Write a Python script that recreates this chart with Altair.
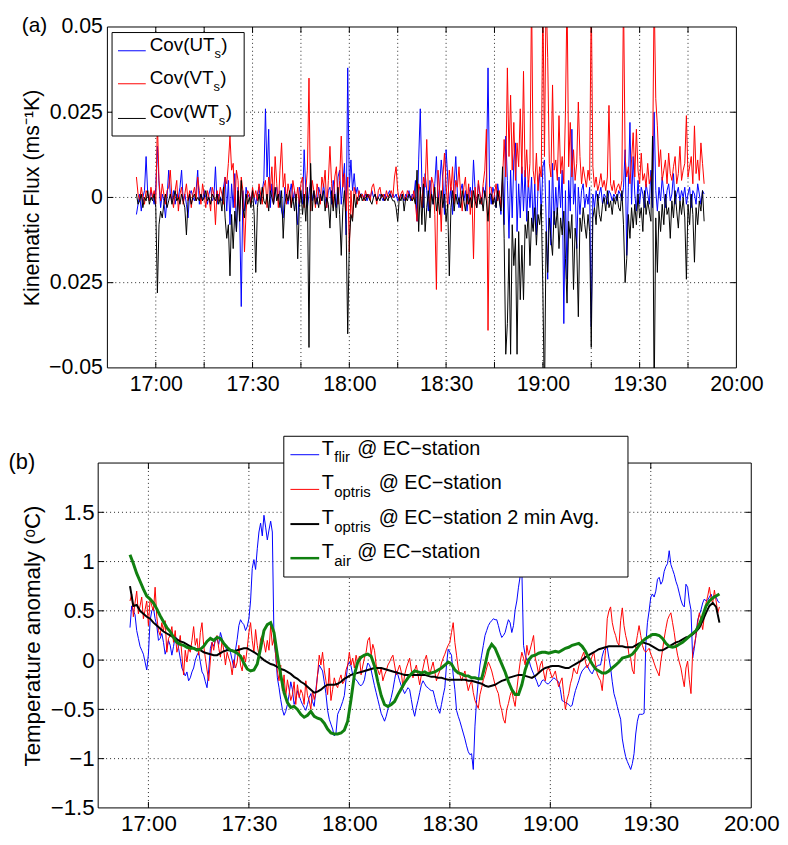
import altair as alt
import numpy as np
import pandas as pd

FONT = "Liberation Sans"

# ---------------- data : panel (a) kinematic fluxes, units of 1e-3 m s^-1 K ----------------
# samples every 0.5 min, first sample at 9.0 min after 16:45
A_START, A_STEP = 9.0, 0.5
cov_ut = [
    -5, -2, 1, -4, 0, 2, 12, 1, -1, 2, 0, -2, 3, 15, 4, -3, 1, -1, -6, 0,
    8, 1, -1, 2, -2, 1, 0, 3, 8, -1, 1, -2, -6, 1, 2, 0, -1, 2, 8, -2,
    1, -1, 2, 0, -2, 1, 3, -1, 0, 9, -2, 1, 0, -1, 3, 6, -4, 5, -8, 4,
    -3, 7, -10, 3, -5, -32, 2, -4, 3, 0, 1, -1, 2, 0, -2, 1, 3, -1, 2, 5,
    26, 6, 20, -3, 4, -2, 1, 3, -1, 2, -4, -6, 3, 0, -2, 1, 4, -1, 2, -3,
    -8, 3, 1, -2, 14, 2, -3, 1, 5, -1, 2, 0, -2, 3, 1, -1, 4, 0, -3, 2,
    3, -2, 5, 1, -3, 6, 8, -2, 4, 10, -11, 38, 3, 11, 2, 7, 1, 3, 0, 1,
    1, 0, 1, -1, 1, 0, 2, 0, 1, -1, 0, 1, 0, -1, 1, 0, 1, 2, 0, 1,
    0, 1, -1, 0, 1, 0, -1, 1, 0, 2, -1, 1, 0, 5, -7, 11, 26, 4, -3, 7,
    2, -4, 5, 1, -2, 4, 12, -1, 3, 11, 5, -5, 14, 6, -2, 3, -5, 4, 12, 1,
    -3, 2, 4, -1, 2, -4, 1, 3, -2, 11, 2, -3, 4, 1, -2, 3, 0, 6, 38, 2,
    -2, 3, 1, -3, 4, 0, -5, 6, -8, 18, 5, -12, 8, -6, 11, 16, -10, 4, -6, 9,
    -4, 8, -7, 5, -3, 6, -9, 4, -11, 3, 7, -5, 9, 11, -6, -24, 5, -14, 10, -8,
    3, -5, 6, -3, 8, -37, 2, -24, 5, -4, 20, -2, 4, -15, 3, -5, 2, 4, -3, 1,
    -2, 3, -38, 1, -3, 2, -1, 1, 3, -2, 1, 0, -2, 2, 1, -1, 1, 0, -1, 2,
    1, -1, 3, 14, -17, 3, 22, -2, 12, 1, -4, 5, -2, 3, 1, -3, 4, 1, -2, 8,
    -3, 25, 2, -4, 3, -1, 6, 1, -3, 2, 4, -1, 1, 7, -2, 1, 3, -1, 2, 0,
    3, -2, 1, 3, -3, 2, 1, -2, 4, 1, -2, 2, 1,
]
cov_vt = [
    6, 1, -1, 3, 0, -2, 2, 1, -1, 3, 0, 2, -2, 22, 5, -1, 4, 1, -2, 2,
    3, 8, 0, -3, 2, 5, -4, 1, 3, -2, 1, 4, -1, 2, -3, 1, 3, -1, 6, 2,
    -2, 4, 1, -3, 2, 0, -4, 3, 1, -8, 2, -1, 3, 1, -2, 6, 4, 10, 18, 8,
    10, -3, 8, 5, -5, 6, 2, -16, -4, 2, 1, -2, 3, 0, 2, -1, 4, 1, -2, 3,
    5, -3, 6, 2, 9, -2, 12, 4, -3, 8, 16, 3, 7, -2, 4, 1, -3, 5, 2, -1,
    3, -2, 4, 6, -3, 2, 8, 35, -4, 5, 2, -3, 4, 1, -2, 6, 3, 8, -3, 5,
    15, 4, -3, 6, 9, -2, 5, 18, 3, 7, -4, 6, -16, 2, -6, 3, 1, -2, 2, 0,
    1, -1, 2, 0, 1, -1, 3, 4, 1, -2, 2, 3, 0, 1, -1, 2, 0, 1, 2, 0,
    6, 9, 2, -1, 1, 2, 0, -1, 2, 1, 0, -1, 2, -2, -7, 4, 2, -3, 6, 3,
    17, 2, -3, 6, 4, -5, -27, 8, 2, -10, 6, 13, 4, -3, 8, 2, 9, -2, 5, 3,
    9, 1, -4, 3, 6, -2, 4, -5, 2, -18, 3, -3, 5, 1, -2, 4, 8, 20, -39, 3,
    3, -2, 1, 4, -1, 2, -3, 5, 17, 6, 38, 12, 30, 8, 22, 5, 16, 9, 26, 7,
    37, 6, 14, 3, 10, 60, 8, 4, 13, 2, 9, 6, 60, 12, 60, 41, 10, 6, 33, 8,
    11, 5, 24, 7, 12, 4, 25, 60, 9, 22, 6, 14, 5, 10, 28, 12, 4, 9, 6, 3,
    8, 5, 60, 9, 3, 6, 2, 4, 7, 3, 5, 2, 6, 27, 4, 2, 5, 1, 3, 4,
    2, 5, 60, 12, 6, 9, 4, 11, 19, 6, 20, 8, 4, 13, 5, 7, 3, 10, 4, 6,
    8, 60, 29, 21, 9, 14, 5, 8, 11, 4, 13, 7, 5, 9, 12, 4, 7, 15, 5, 8,
    10, 24, 6, 9, 12, 4, 21, 7, 11, 5, 16, 10, 4,
]
cov_wt = [
    1, -2, -1, 1, -3, 0, -1, 2, -2, 0, -1, 1, -3, -28, -8, -4, -6, -2, 1, -3,
    -1, 1, -2, 0, 2, -1, 0, -2, 1, -1, -3, -11, -1, 1, -2, 0, 1, -1, 0, -1,
    1, -1, 0, 2, -1, 0, -2, 1, 0, -1, 1, -2, 0, -4, 3, -6, -12, -8, -23, -5,
    -15, -4, -10, 2, -7, 5, -3, -6, 1, -2, 0, -3, 2, -5, -22, -3, 1, -2, 3, -1,
    -2, 1, -4, 2, 0, -2, 3, -1, 1, -3, 2, -12, -2, 1, -1, 2, -3, 0, -4, 1,
    -18, -3, 2, -5, 1, -7, 3, -44, 10, -4, 2, -2, 0, -3, 1, -1, 2, -4, 0, -2,
    -9, 2, -4, 1, -6, 3, -5, -17, -3, 2, -8, -40, -13, -5, -7, 1, -3, 0, -1, 1,
    -1, 0, -1, 1, 0, -1, -2, 0, 1, -1, 0, -1, 1, 0, -1, 0, -1, 1, 0, -1,
    -1, -3, -7, 0, -1, 1, -4, 0, -1, 1, 0, -1, 0, -2, 8, -10, 3, -8, 4, -10,
    -3, 2, -6, 1, -2, 3, -4, 0, -5, 2, -3, 1, -7, -2, -23, -3, 2, -4, 1, -2,
    0, -3, 2, -1, -4, 1, -2, 0, -3, 2, -1, -3, 1, -2, 0, -4, 2, -1, -7, 1,
    1, -2, 0, -3, 2, -1, -4, 9, -12, -46, -37, -15, -46, -8, -20, -12, -46, -10, -30, -14,
    -30, -8, -12, -4, -20, -6, -10, -3, -14, -5, -8, -2, -27, -60, -10, -22, -6, -12, -17, -4,
    -9, -3, -15, -6, -11, -4, -18, -31, -7, -12, -5, -27, -9, -14, -35, -6, -10, -3, -8, -12,
    -5, -10, -44, -6, -3, -8, 1, -5, -7, -2, 0, -4, 2, -3, -1, -5, 0, -2, 1, -3,
    -4, 2, -8, -25, -18, -5, -12, -3, -9, -2, -8, 1, -6, -3, -10, 2, -5, -1, -4, -7,
    18, -60, -6, -22, -4, -10, -2, -8, 1, -5, -3, -12, -1, -6, 2, -4, -9, -1, -5, 0,
    -6, -24, -2, -8, 1, -5, -19, -3, -8, -1, -4, 2, -7,
]

# ---------------- data : panel (b) temperature anomalies, degC ----------------
B_START, B_STEP = 9.5, 0.5
t_flir = [
    0.33, 0.55, 0.50, 0.46, 0.30, 0.22, 0.14, 0.10, 0.06, -0.02, -0.10, 0.06, 0.40, 0.50, 0.53, 0.42, 0.35, 0.20, 0.22, 0.27,
    0.18, 0.06, 0.12, 0.20, 0.15, 0.05, 0.14, 0.24, 0.22, 0.12, 0.02, -0.08, -0.12, -0.16, -0.12, -0.21, -0.18, -0.12, -0.08, 0.00,
    0.05, 0.08, -0.02, -0.12, -0.15, -0.22, -0.28, -0.10, 0.12, 0.18, 0.14, 0.20, 0.21, 0.16, 0.28, 0.22, 0.16, 0.13, 0.10, 0.12,
    0.08, 0.00, -0.08, 0.10, 0.21, 0.35, 0.41, 0.38, 0.36, 0.30, 0.34, 0.42, 0.60, 0.93, 1.02, 0.92, 1.13, 1.30, 1.39, 1.26,
    1.47, 1.35, 1.22, 1.32, 1.41, 1.30, 0.20, 0.05, -0.18, -0.28, -0.40, -0.50, -0.56, -0.52, -0.45, -0.35, -0.22, -0.30, -0.45, -0.40,
    -0.31, -0.36, -0.41, -0.45, -0.48, -0.51, -0.45, -0.38, -0.34, -0.42, -0.47, -0.30, -0.15, -0.05, -0.08, -0.11, -0.22, -0.34, -0.51, -0.60,
    -0.65, -0.70, -0.77, -0.74, -0.55, -0.51, -0.47, -0.42, -0.36, -0.20, -0.05, -0.02, -0.06, -0.15, -0.18, -0.20, -0.22, -0.25, -0.26, -0.24,
    -0.20, -0.10, -0.03, -0.05, -0.10, -0.18, -0.26, -0.33, -0.40, -0.47, -0.54, -0.58, -0.62, -0.57, -0.50, -0.44, -0.38, -0.30, -0.20, -0.11,
    -0.15, -0.21, -0.26, -0.30, -0.34, -0.31, -0.28, -0.30, -0.40, -0.50, -0.57, -0.48, -0.41, -0.33, -0.25, -0.21, -0.24, -0.27, -0.28, -0.30,
    -0.31, -0.31, -0.38, -0.45, -0.50, -0.54, -0.45, -0.36, -0.28, -0.05, 0.11, 0.08, 0.05, -0.15, -0.30, -0.51, -0.57, -0.62, -0.68, -0.74,
    -0.80, -0.87, -0.93, -0.96, -0.95, -1.11, -0.67, -0.40, -0.21, -0.05, 0.05, 0.15, 0.25, 0.30, 0.35, 0.38, 0.40, 0.42, 0.41, 0.41,
    0.35, 0.28, 0.23, 0.25, 0.28, 0.35, 0.41, 0.38, 0.28, 0.35, 0.51, 0.60, 0.74, 0.85, 0.92, 0.15, 0.05, 0.00, 0.02, -0.05,
    -0.10, -0.14, -0.18, -0.22, -0.27, -0.25, -0.21, -0.20, -0.22, -0.24, -0.24, -0.22, -0.20, -0.18, -0.19, -0.21, -0.22, -0.30, -0.41, -0.42,
    -0.43, -0.44, -0.45, -0.47, -0.46, -0.38, -0.31, -0.26, -0.21, -0.15, -0.11, -0.09, -0.07, -0.05, -0.09, -0.12, -0.14, -0.10, -0.07, -0.06,
    -0.05, -0.05, 0.04, 0.10, 0.12, 0.13, 0.02, -0.08, -0.22, -0.34, -0.40, -0.47, -0.54, -0.60, -0.80, -0.90, -0.98, -1.03, -1.07, -1.11,
    -1.05, -0.95, -0.75, -0.62, -0.55, -0.55, -0.55, -0.54, 0.15, 0.38, 0.50, 0.64, 0.67, 0.64, 0.70, 0.82, 0.84, 0.77, 0.80, 0.90,
    0.95, 0.98, 1.11, 0.97, 0.92, 0.87, 0.80, 0.75, 0.68, 0.61, 0.56, 0.54, 0.77, 0.74, 0.60, 0.51, 0.02, 0.12, 0.25, 0.41,
    0.46, 0.51, 0.58, 0.62, 0.60, 0.61, 0.64, 0.67, 0.62, 0.66, 0.64, 0.60, 0.58,
]
t_optris = [
    0.60, 0.67, 0.44, 0.58, 0.70, 0.47, 0.55, 0.64, 0.42, 0.51, 0.60, 0.35, 0.62, 0.55, 0.50, 0.74, 0.44, 0.30, 0.25, 0.38,
    0.30, 0.40, 0.08, 0.22, 0.25, 0.34, 0.18, 0.30, 0.08, 0.14, 0.25, 0.05, -0.15, 0.10, -0.02, 0.12, 0.08, 0.20, 0.34, 0.15,
    0.22, 0.05, 0.28, 0.38, 0.15, 0.02, -0.10, -0.21, 0.00, 0.18, 0.10, 0.22, 0.25, 0.12, 0.03, 0.21, 0.10, -0.05, 0.08, 0.02,
    -0.03, -0.15, 0.00, -0.08, -0.02, 0.15, -0.05, -0.11, 0.05, -0.02, 0.12, 0.28, 0.38, 0.20, 0.08, 0.31, 0.15, 0.05, 0.22, 0.25,
    0.18, 0.08, 0.20, 0.10, 0.35, 0.15, 0.22, 0.05, -0.11, -0.21, -0.05, -0.31, -0.15, -0.38, -0.20, -0.30, -0.41, -0.35, -0.22, -0.45,
    -0.25, -0.38, -0.30, -0.34, -0.45, -0.21, -0.36, -0.41, -0.50, -0.31, -0.40, -0.34, -0.15, 0.05, -0.05, 0.08, -0.10, -0.21, -0.35, -0.08,
    -0.41, -0.30, -0.18, -0.25, -0.28, -0.20, -0.15, -0.24, -0.21, -0.10, -0.05, 0.08, -0.05, 0.02, -0.08, 0.05, -0.02, 0.04, -0.15, -0.06,
    0.02, 0.08, 0.20, 0.23, 0.05, 0.16, 0.10, -0.05, -0.10, -0.15, -0.08, -0.21, -0.15, -0.11, -0.05, -0.02, 0.02, 0.05, -0.05, -0.15,
    -0.10, -0.05, -0.12, -0.28, -0.15, -0.08, -0.03, 0.02, -0.10, -0.18, -0.10, -0.05, -0.15, -0.25, -0.15, -0.08, 0.00, 0.05, -0.05, -0.15,
    -0.08, -0.02, -0.12, -0.21, -0.15, -0.11, -0.03, 0.02, 0.06, 0.11, 0.15, 0.18, 0.28, 0.38, 0.18, 0.05, -0.08, -0.15, -0.21, -0.16,
    -0.11, -0.22, -0.31, -0.25, -0.21, -0.33, -0.41, -0.45, -0.49, -0.35, -0.28, -0.20, -0.15, -0.08, -0.02, -0.06, -0.11, -0.18, -0.25, -0.30,
    -0.34, -0.45, -0.51, -0.60, -0.64, -0.50, -0.44, -0.36, -0.31, -0.40, -0.47, -0.30, -0.15, -0.02, 0.08, 0.02, -0.05, 0.15, 0.05, 0.11,
    0.18, 0.25, 0.02, -0.05, -0.14, -0.05, -0.01, -0.12, -0.21, -0.10, -0.08, -0.12, -0.18, -0.15, -0.11, -0.20, -0.27, -0.22, -0.18, -0.35,
    -0.50, -0.40, -0.34, -0.24, -0.18, -0.08, -0.12, -0.14, -0.06, -0.01, 0.04, 0.08, -0.02, -0.08, -0.04, -0.01, 0.04, 0.08, -0.04, -0.14,
    -0.18, -0.21, -0.31, -0.10, 0.10, 0.42, 0.50, 0.54, 0.38, 0.30, 0.25, 0.18, 0.15, 0.40, 0.53, 0.35, 0.25, 0.18, 0.05, 0.02,
    -0.10, -0.14, 0.15, 0.25, 0.35, 0.25, 0.15, 0.10, 0.08, 0.10, 0.12, 0.06, 0.02, -0.03, -0.08, -0.12, -0.16, -0.01, 0.10, 0.22,
    0.32, 0.41, 0.45, 0.48, 0.38, 0.28, 0.15, 0.05, -0.02, -0.08, -0.18, -0.27, -0.08, -0.01, -0.20, -0.34, 0.08, 0.15, 0.25, 0.38,
    0.48, 0.40, 0.31, 0.45, 0.58, 0.65, 0.74, 0.62, 0.58, 0.71, 0.60, 0.48, 0.54,
]
# one sample per minute, first at 9.5 min after 16:45
C_START, C_STEP = 9.5, 1.0
t_optris_avg = [
    0.75, 0.55, 0.56, 0.50, 0.47, 0.44, 0.42, 0.38, 0.35, 0.32,
    0.29, 0.27, 0.25, 0.23, 0.21, 0.19, 0.18, 0.16, 0.14, 0.12,
    0.11, 0.10, 0.08, 0.07, 0.06, 0.05, 0.05, 0.07, 0.09, 0.10,
    0.10, 0.09, 0.10, 0.11, 0.12, 0.12, 0.10, 0.08, 0.06, 0.03,
    0.00, -0.02, -0.04, -0.05, -0.07, -0.09, -0.10, -0.12, -0.14, -0.17,
    -0.19, -0.22, -0.24, -0.27, -0.30, -0.33, -0.32, -0.30, -0.27, -0.25,
    -0.25, -0.25, -0.24, -0.22, -0.19, -0.17, -0.15, -0.14, -0.13, -0.12,
    -0.11, -0.10, -0.09, -0.08, -0.08, -0.08, -0.09, -0.10, -0.11, -0.12,
    -0.13, -0.14, -0.15, -0.15, -0.15, -0.15, -0.15, -0.15, -0.15, -0.16,
    -0.17, -0.17, -0.18, -0.18, -0.19, -0.20, -0.20, -0.20, -0.20, -0.20,
    -0.20, -0.21, -0.21, -0.22, -0.23, -0.24, -0.26, -0.27, -0.26, -0.25,
    -0.23, -0.21, -0.20, -0.18, -0.17, -0.16, -0.15, -0.15, -0.16, -0.17,
    -0.18, -0.16, -0.13, -0.10, -0.08, -0.07, -0.06, -0.06, -0.06, -0.07,
    -0.08, -0.08, -0.06, -0.04, -0.02, 0.00, 0.03, 0.05, 0.07, 0.09,
    0.11, 0.12, 0.13, 0.14, 0.14, 0.14, 0.14, 0.14, 0.13, 0.13,
    0.13, 0.15, 0.17, 0.18, 0.17, 0.16, 0.14, 0.12, 0.10, 0.10,
    0.12, 0.14, 0.16, 0.18, 0.19, 0.21, 0.23, 0.24, 0.26, 0.29,
    0.33, 0.40, 0.48, 0.55, 0.58, 0.54, 0.38,
]
t_air = [
    1.07, 0.98, 0.88, 0.80, 0.72, 0.65, 0.62, 0.58, 0.52, 0.45,
    0.39, 0.33, 0.29, 0.23, 0.18, 0.16, 0.15, 0.13, 0.12, 0.12,
    0.10, 0.11, 0.14, 0.19, 0.22, 0.20, 0.23, 0.22, 0.17, 0.13,
    0.10, 0.09, 0.07, 0.04, -0.03, -0.09, -0.11, -0.10, -0.04, 0.12,
    0.30, 0.36, 0.38, 0.28, 0.05, -0.15, -0.33, -0.43, -0.48, -0.47,
    -0.50, -0.55, -0.58, -0.56, -0.52, -0.57, -0.59, -0.60, -0.64, -0.70,
    -0.74, -0.75, -0.75, -0.74, -0.71, -0.62, -0.40, -0.15, -0.02, 0.03,
    0.05, 0.06, 0.04, -0.06, -0.22, -0.36, -0.45, -0.47, -0.45, -0.42,
    -0.35, -0.29, -0.23, -0.18, -0.14, -0.11, -0.12, -0.13, -0.12, -0.14,
    -0.13, -0.12, -0.10, -0.08, -0.05, -0.02, -0.04, -0.10, -0.13, -0.14,
    -0.16, -0.16, -0.18, -0.18, -0.19, -0.19, -0.05, 0.10, 0.16, 0.12,
    0.04, -0.04, -0.12, -0.22, -0.30, -0.35, -0.35, -0.25, -0.10, 0.00,
    0.04, 0.05, 0.07, 0.08, 0.08, 0.07, 0.08, 0.09, 0.08, 0.10,
    0.12, 0.13, 0.15, 0.16, 0.17, 0.14, 0.09, 0.02, -0.04, -0.09,
    -0.11, -0.13, -0.13, -0.11, -0.08, -0.05, -0.02, 0.02, 0.03, 0.04,
    0.06, 0.10, 0.15, 0.19, 0.22, 0.24, 0.26, 0.26, 0.25, 0.22,
    0.17, 0.14, 0.13, 0.14, 0.16, 0.18, 0.21, 0.24, 0.27, 0.30,
    0.36, 0.45, 0.55, 0.60, 0.63, 0.65, 0.67,
]

# axis / grid values (minutes after 16:45)
time_labels = [15, 45, 75, 105, 135, 165, 195]
grid_a_times = [15, 30, 45, 60, 75, 90, 105, 120, 135, 150, 165, 180]
grid_b_times = [15, 45, 75, 105, 135, 165]
ticks_a_y = [-0.05, -0.025, 0, 0.025, 0.05]
ticks_b_y = [-1.5, -1, -0.5, 0, 0.5, 1, 1.5]
grid_a_y = [-0.025, 0, 0.025]
grid_b_y = [-1, -0.5, 0, 0.5, 1, 1.5]


def series(vals, start, step, factor=1.0):
    v = np.asarray(vals, dtype=float) * factor
    return pd.DataFrame({"t": start + step * np.arange(len(v)), "v": v})


one = pd.DataFrame({"k": [0]})
TIME_EXPR = ("floor((1005 + datum.value) / 60) + ':' + "
             "(((1005 + datum.value) % 60) == 0 ? '00' : '30')")

# ---------------- geometry ----------------
WA, HA, XA0 = 644, 344, 9.3          # panel (a): group width/height, frame left offset
WB, HB = 659, 348                   # panel (b)
TICK = 6
DOT = [1, 3]


def text(s, x, y, size, color="black", align="left", baseline="alphabetic"):
    return alt.Chart(one).mark_text(text=s, font=FONT, fontSize=size, color=color,
                                    align=align, baseline=baseline).encode(
        x=alt.value(x), y=alt.value(y))


def hline(x1, x2, y, color, width):
    return alt.Chart(one).mark_rule(color=color, strokeWidth=width).encode(
        x=alt.value(x1), x2=alt.value(x2), y=alt.value(y))


def box(x1, x2, y1, y2):
    return alt.Chart(one).mark_rect(fill="white", stroke="black", strokeWidth=1).encode(
        x=alt.value(x1), x2=alt.value(x2), y=alt.value(y1), y2=alt.value(y2))


def build_panel(W, H, x0, fs, sx_range, ydom, yvals, ylabel_expr, ytitle, y_offset,
                xlabel_pad, ylabel_pad, ytitle_pad, grid_t, grid_y):
    sx = alt.Scale(domain=[0, 195], range=sx_range, nice=False, zero=False)
    sy = alt.Scale(domain=ydom, nice=False, zero=False)
    ax = alt.Axis(values=time_labels, labelExpr=TIME_EXPR, grid=False, ticks=False,
                  domain=False, labelPadding=xlabel_pad, labelFontSize=fs, labelFont=FONT,
                  labelColor="black", labelFlush=False, labelOverlap=False, labelBound=False,
                  title=None)
    ay = alt.Axis(values=yvals, labelExpr=ylabel_expr, grid=False, ticks=False, domain=False,
                  labelPadding=ylabel_pad, labelFontSize=fs, labelFont=FONT, labelColor="black",
                  labelFlush=False, labelOverlap=False, labelBound=False,
                  title=ytitle, titleFont=FONT, titleFontSize=fs, titleFontWeight="normal",
                  titleColor="black", titlePadding=ytitle_pad, offset=y_offset)

    def X(f):
        return alt.X(f, type="quantitative", scale=sx, axis=ax)

    def Y(f):
        return alt.Y(f, type="quantitative", scale=sy, axis=ay)

    layers = []
    gt = pd.DataFrame({"t": grid_t})
    gy = pd.DataFrame({"v": grid_y})
    layers.append(alt.Chart(gt).mark_rule(color="black", strokeWidth=1, strokeDash=DOT, opacity=0.85)
                  .encode(x=X("t"), y=alt.value(0), y2=alt.value(H)))
    layers.append(alt.Chart(gy).mark_rule(color="black", strokeWidth=1, strokeDash=DOT, opacity=0.85)
                  .encode(y=Y("v"), x=alt.value(x0), x2=alt.value(W)))
    return X, Y, layers


# ---------------- panel (a) ----------------
XA_, YA_, layersA = build_panel(
    WA, HA, XA0, 21.5, [XA0, WA], [-0.05, 0.05], ticks_a_y,
    ("datum.value == 0 ? '0' : (datum.value > 0.04 ? '0.05' : (datum.value > 0.01 ? '0.025' : "
     "(datum.value > -0.04 ? '0.025' : '\u22120.05')))"),
    "Kinematic Flux (ms\u207b\u00b9K)", -XA0, 6, 5, 5, grid_a_times, grid_a_y)

for vals, col in [(cov_ut, "#0000ff"), (cov_vt, "#ff0000"), (cov_wt, "#000000")]:
    layersA.append(alt.Chart(series(vals, A_START, A_STEP, 0.001))
                   .mark_line(color=col, strokeWidth=1, clip=True)
                   .encode(x=XA_("t"), y=YA_("v")))

frameA = pd.DataFrame({"t0": [0], "t1": [195], "v0": [-0.05], "v1": [0.05]})
layersA.append(alt.Chart(frameA).mark_rect(fillOpacity=0, stroke="black", strokeWidth=1)
               .encode(x=XA_("t0"), x2="t1", y=YA_("v0"), y2="v1"))
tA = pd.DataFrame({"t": grid_a_times})
yA = pd.DataFrame({"v": grid_a_y})
layersA += [
    alt.Chart(tA).mark_rule(color="black").encode(x=XA_("t"), y=alt.value(0), y2=alt.value(TICK)),
    alt.Chart(tA).mark_rule(color="black").encode(x=XA_("t"), y=alt.value(HA), y2=alt.value(HA - TICK)),
    alt.Chart(yA).mark_rule(color="black").encode(y=YA_("v"), x=alt.value(XA0), x2=alt.value(XA0 + TICK)),
    alt.Chart(yA).mark_rule(color="black").encode(y=YA_("v"), x=alt.value(WA), x2=alt.value(WA - TICK)),
]
# legend (a)
layersA.append(box(14, 147.3, 5.6, 110))
leg_a = [("Cov(UT", "#0000ff", 24, 117.4, 124.3),
         ("Cov(VT", "#ff0000", 57.3, 116.4, 123.3),
         ("Cov(WT", "#000000", 92.3, 121.7, 128.6)]
for main, col, ly, xs, xp in leg_a:
    layersA.append(hline(20, 48, ly, col, 1))
    layersA.append(text(main, 52, ly, 19))
    layersA.append(text("s", xs, ly + 7, 13))
    layersA.append(text(")", xp, ly, 19))
layersA.append(text("(a)", -77, -12.3, 21, baseline="top"))

panelA = alt.layer(*layersA).properties(width=WA, height=HA)

# ---------------- panel (b) ----------------
XB_, YB_, layersB = build_panel(
    WB, HB, 0, 22.5, [0, WB], [-1.5, 2.0], ticks_b_y,
    "(datum.value < 0 ? '\u2212' : '') + abs(datum.value)",
    "Temperature anomaly (\u1d52C)", 0, 4.5, 4, 6, grid_b_times, grid_b_y)

for df, col, w in [(series(t_flir, B_START, B_STEP), "#0000ff", 1),
                   (series(t_optris, B_START, B_STEP), "#ff0000", 1),
                   (series(t_optris_avg, C_START, C_STEP), "#000000", 2),
                   (series(t_air, C_START, C_STEP), "#108010", 3)]:
    layersB.append(alt.Chart(df).mark_line(color=col, strokeWidth=w, clip=True)
                   .encode(x=XB_("t"), y=YB_("v")))

frameB = pd.DataFrame({"t0": [0], "t1": [195], "v0": [-1.5], "v1": [2.0]})
layersB.append(alt.Chart(frameB).mark_rect(fillOpacity=0, stroke="black", strokeWidth=1)
               .encode(x=XB_("t0"), x2="t1", y=YB_("v0"), y2="v1"))
tB = pd.DataFrame({"t": grid_b_times})
yB = pd.DataFrame({"v": grid_b_y})
layersB += [
    alt.Chart(tB).mark_rule(color="black").encode(x=XB_("t"), y=alt.value(0), y2=alt.value(TICK)),
    alt.Chart(tB).mark_rule(color="black").encode(x=XB_("t"), y=alt.value(HB), y2=alt.value(HB - TICK)),
    alt.Chart(yB).mark_rule(color="black").encode(y=YB_("v"), x=alt.value(0), x2=alt.value(TICK)),
    alt.Chart(yB).mark_rule(color="black").encode(y=YB_("v"), x=alt.value(WB), x2=alt.value(WB - TICK)),
]
# legend (b)
layersB.append(box(187.3, 534.6, -27, 115))
leg_b = [("flir", "@ EC\u2212station", "#0000ff", 1, -8.4, 261.3),
         ("optris", "@ EC\u2212station", "#ff0000", 1, 26.6, 283),
         ("optris", "@ EC\u2212station 2 min Avg.", "#000000", 2, 61.6, 283),
         ("air", "@ EC\u2212station", "#108010", 2.5, 96, 261.3)]
for sub, rest, col, w, ly, xr in leg_b:
    layersB.append(hline(194, 223, ly, col, w))
    layersB.append(text("T", 225.6, ly, 20))
    layersB.append(text(sub, 238.3, ly + 7.5, 15))
    layersB.append(text(rest, xr, ly, 20))
layersB.append(text("(b)", -90.4, -11.3, 22, baseline="top"))

panelB = alt.layer(*layersB).properties(width=WB, height=HB)

chart = (alt.vconcat(panelA, panelB, spacing=40)
         .properties(padding={"left": 0, "top": 2.4, "right": 0, "bottom": 0})
         .configure_view(stroke=None))

chart.save("out.html", embed_options={"renderer": "svg", "actions": False})
